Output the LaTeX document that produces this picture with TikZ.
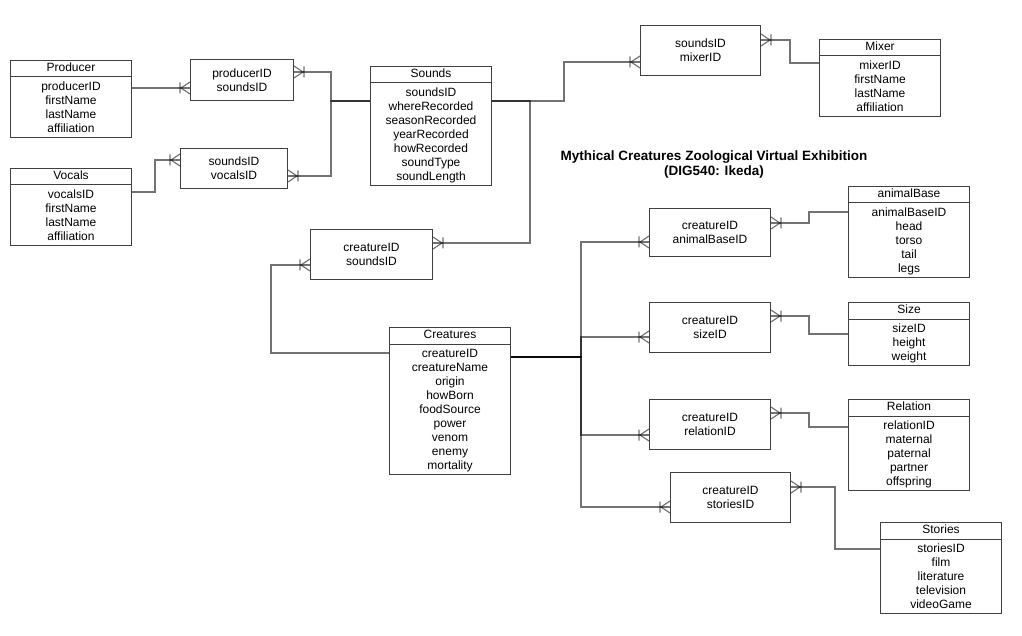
\documentclass[tikz,border=0pt]{standalone}
\usepackage{fontspec}
\setmainfont{Liberation Sans}
\pgfarrowsdeclare{crow}{crow}
{\pgfarrowsleftextend{-11pt}\pgfarrowsrightextend{0pt}}
{\pgfsetdash{}{0pt}\pgfsetmiterjoin
 \pgfpathmoveto{\pgfpoint{0pt}{6pt}}
 \pgfpathlineto{\pgfpoint{-9pt}{0pt}}
 \pgfpathlineto{\pgfpoint{0pt}{-6pt}}
 \pgfpathmoveto{\pgfpoint{-10pt}{5.5pt}}
 \pgfpathlineto{\pgfpoint{-10pt}{-5.5pt}}
 \pgfusepathqstroke}
\tikzset{
  tbl/.style={draw=black!75, line width=1pt, fill=white, minimum width=121, inner sep=0pt},
  tblline/.style={draw=black!75, line width=1pt},
  cell/.style={inner sep=0pt, font=\fontsize{12}{14}\selectfont, text height=8.6pt, text depth=2.5pt},
  linkbox/.style={draw=black!75, line width=1pt, fill=white, inner sep=0pt, align=center, font=\fontsize{12}{14}\selectfont},
  conn/.style={draw=black, draw opacity=0.55, line width=1.2pt, -crow},
  heading/.style={font=\bfseries\fontsize{13.5}{15}\selectfont, align=center, inner sep=0pt}
}
\newcommand\erTbl[6]{%
  \node[tbl, minimum height={21pt+14pt*#6}, anchor=north west] (#1) at (#2,#3) {};
  \draw[tblline] ([yshift=-17pt]#1.north west) -- ([yshift=-17pt]#1.north east);
  \node[cell] (#1-t) at ([yshift=-8.5pt]#1.north) {#4};
  \foreach \r [count=\i] in {#5} \node[cell] (#1-r\i) at ([yshift={-27pt-14pt*(\i-1)}]#1.north) {\r};
}
\begin{document}
\begin{tikzpicture}[x=1pt,y=-1pt]
\useasboundingbox (0,0) rectangle (1022,636);
% entity tables
\erTbl{producer}{10}{60}{Producer}{producerID,firstName,lastName,affiliation}{4}
\erTbl{vocals}{10}{168}{Vocals}{vocalsID,firstName,lastName,affiliation}{4}
\erTbl{sounds}{370}{66}{Sounds}{soundsID,whereRecorded,seasonRecorded,yearRecorded,howRecorded,soundType,soundLength}{7}
\erTbl{mixer}{819}{39}{Mixer}{mixerID,firstName,lastName,affiliation}{4}
\erTbl{creatures}{389}{327}{Creatures}{creatureID,creatureName,origin,howBorn,foodSource,power,venom,enemy,mortality}{9}
\erTbl{animalBase}{848}{186}{animalBase}{animalBaseID,head,torso,tail,legs}{5}
\erTbl{size}{848}{302}{Size}{sizeID,height,weight}{3}
\erTbl{relation}{848}{399}{Relation}{relationID,maternal,paternal,partner,offspring}{5}
\erTbl{stories}{880}{522}{Stories}{storiesID,film,literature,television,videoGame}{5}
% link tables
\node[linkbox, minimum width=103, minimum height=41, anchor=north west] (ps) at (190,59) {producerID\\soundsID};
\node[linkbox, minimum width=107, minimum height=40, anchor=north west] (sv) at (180,148) {soundsID\\vocalsID};
\node[linkbox, minimum width=120, minimum height=50, anchor=north west] (sm) at (640,25) {soundsID\\mixerID};
\node[linkbox, minimum width=122, minimum height=50, anchor=north west] (cs) at (310,229) {creatureID\\soundsID};
\node[linkbox, minimum width=121, minimum height=48, anchor=north west] (ca) at (649,208) {creatureID\\animalBaseID};
\node[linkbox, minimum width=121, minimum height=50, anchor=north west] (csz) at (649,302) {creatureID\\sizeID};
\node[linkbox, minimum width=121, minimum height=50, anchor=north west] (cr) at (649,399) {creatureID\\relationID};
\node[linkbox, minimum width=120, minimum height=50, anchor=north west] (cst) at (670,472) {creatureID\\storiesID};
% title
\node[heading] (title) at (714,165) {Mythical Creatures Zoological Virtual Exhibition\\(DIG540: Ikeda)};
% connectors
\draw[conn] (producer.east |- 0,88) -- (ps.west |- 0,88);
\draw[conn] (vocals.east |- 0,192) -- (155,192) |- (sv.west |- 0,160);
\draw[conn] (sounds.west |- 0,101) -- (331,101) |- (ps.east |- 0,72);
\draw[conn] (sounds.west |- 0,101) -- (331,101) |- (sv.east |- 0,176);
\draw[conn] (sounds.east |- 0,101) -- (564,101) |- (sm.west |- 0,62);
\draw[conn] (sounds.east |- 0,101) -- (530,101) |- (cs.east |- 0,243);
\draw[conn] (mixer.west |- 0,63) -- (790,63) |- (sm.east |- 0,40);
\draw[conn] (creatures.west |- 0,353) -- (271,353) |- (cs.west |- 0,265);
\draw[conn] (creatures.east |- 0,357) -- (581,357) |- (ca.west |- 0,242);
\draw[conn] (creatures.east |- 0,357) -- (581,357) |- (csz.west |- 0,337);
\draw[conn] (creatures.east |- 0,357) -- (581,357) |- (cr.west |- 0,435);
\draw[conn] (creatures.east |- 0,357) -- (581,357) |- (cst.west |- 0,507);
\draw[conn] (animalBase.west |- 0,212) -- (809,212) |- (ca.east |- 0,223);
\draw[conn] (size.west |- 0,334) -- (809,334) |- (csz.east |- 0,316);
\draw[conn] (relation.west |- 0,427) -- (809,427) |- (cr.east |- 0,413);
\draw[conn] (stories.west |- 0,549) -- (835,549) |- (cst.east |- 0,487);
\end{tikzpicture}
\end{document}
